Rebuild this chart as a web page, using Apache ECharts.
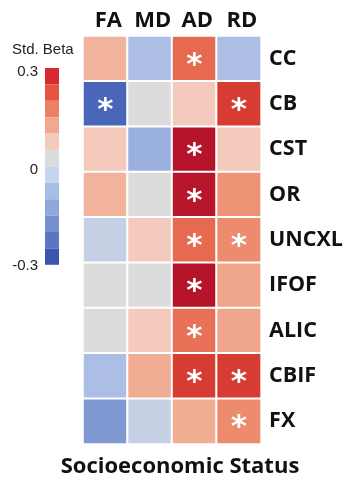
<!DOCTYPE html>
<html>
<head>
<meta charset="utf-8">
<script src="https://cdn.jsdelivr.net/npm/echarts@6/dist/echarts.min.js"></script>
<style>html,body{margin:0;padding:0;background:#fff;}#c{width:346px;height:480px;}</style>
</head>
<body>
<div id="c"></div>
<script>
// Columns (DTI metrics) and rows (tracts)
var metrics = ['FA', 'MD', 'AD', 'RD'];
var tracts = ['CC', 'CB', 'CST', 'OR', 'UNCXL', 'IFOF', 'ALIC', 'CBIF', 'FX'];
// Std. Beta per metric, listed over tracts
var betaFA = [0.10, -0.25, 0.06, 0.10, -0.03, 0.00, 0.00, -0.07, -0.15];
var betaMD = [-0.07, 0.00, -0.10, 0.00, 0.06, 0.00, 0.06, 0.11, -0.03];
var betaAD = [0.20, 0.06, 0.38, 0.37, 0.20, 0.38, 0.19, 0.27, 0.11];
var betaRD = [-0.07, 0.27, 0.06, 0.15, 0.16, 0.12, 0.12, 0.27, 0.16];
// Significance (asterisk) per metric
var sigFA = [0, 1, 0, 0, 0, 0, 0, 0, 0];
var sigMD = [0, 0, 0, 0, 0, 0, 0, 0, 0];
var sigAD = [1, 0, 1, 1, 1, 1, 1, 1, 0];
var sigRD = [0, 1, 0, 0, 1, 0, 0, 1, 1];
// Colour bar bins (Std. Beta), top to bottom
var binEdges = [0.3, 0.25, 0.2, 0.15, 0.1, 0.05, 0, -0.05, -0.1, -0.15, -0.2, -0.25, -0.3];
var binColors = ['#d9292e', '#e45440', '#ec8062', '#f2a88e', '#f3cbbd', '#dcdcdc',
                 '#c6d4ee', '#a8bde6', '#8fa8dc', '#7590cf', '#5a76c3', '#3c56b0'];
// Cell colour scale stops (-0.3 .. 0.4)
var cellScale = ['#3a54ae', '#4a66b9', '#6681c8', '#8099d2', '#9ab0df', '#b8c8ea', '#dcdcdc',
                 '#f3d0c3', '#f2b39c', '#ee9374', '#e66a50', '#dc4437', '#d0302e', '#bd1a2c', '#b0102a'];

var cols = [betaFA, betaMD, betaAD, betaRD];
var sigs = [sigFA, sigMD, sigAD, sigRD];
var data = [];
for (var c = 0; c < metrics.length; c++) {
  for (var r = 0; r < tracts.length; r++) {
    data.push({ value: [c, r, cols[c][r]], sig: sigs[c][r] });
  }
}
var pieces = [];
for (var i = 0; i < binColors.length; i++) {
  pieces.push({ min: binEdges[i + 1], max: binEdges[i], color: binColors[i] });
}

var chart = echarts.init(document.getElementById('c'));
var boldFont = 'Open Sans';
chart.setOption({
  animation: false,
  backgroundColor: '#fff',
  grid: { left: 83, top: 36, width: 180, height: 408 },
  xAxis: {
    type: 'category', data: metrics, position: 'top',
    axisLine: { show: false }, axisTick: { show: false }, splitLine: { show: false },
    axisLabel: { interval: 0, color: '#111', fontFamily: boldFont, fontWeight: 'bold', fontSize: 22, margin: 4, padding: [0, 0, 0, 6] }
  },
  yAxis: {
    type: 'category', data: tracts, inverse: true, position: 'right',
    axisLine: { show: false }, axisTick: { show: false }, splitLine: { show: false },
    axisLabel: { interval: 0, color: '#111', fontFamily: boldFont, fontWeight: 'bold', fontSize: 21.5, margin: 8, align: 'left' }
  },
  visualMap: [
    {
      type: 'continuous', show: false, seriesIndex: 0, dimension: 2,
      min: -0.3, max: 0.4, inRange: { color: cellScale }
    },
    {
      type: 'piecewise', show: true, seriesIndex: [], pieces: pieces,
      orient: 'vertical', left: 45, top: 68, padding: 0,
      itemWidth: 14, itemHeight: 16.4, itemGap: 0, itemSymbol: 'rect',
      showLabel: false, selectedMode: false, hoverLink: false, inverse: false
    }
  ],
  series: [{
    type: 'heatmap',
    data: data,
    itemStyle: { borderColor: '#fff', borderWidth: 2 },
    label: {
      show: true, color: '#fff', fontFamily: 'DejaVu Sans', fontWeight: 'bold', fontSize: 31,
      offset: [0, 7],
      formatter: function (p) { return p.data.sig ? '*' : ''; }
    },
    emphasis: { disabled: true }
  }],
  graphic: [
    { type: 'text', left: 12, top: 42, style: { text: 'Std. Beta', font: '15px "Liberation Sans"', fill: '#222' } },
    { type: 'text', x: 38, y: 72, style: { text: '0.3', font: '15px "Liberation Sans"', fill: '#222', textAlign: 'right', textVerticalAlign: 'middle' } },
    { type: 'text', x: 38, y: 170, style: { text: '0', font: '15px "Liberation Sans"', fill: '#222', textAlign: 'right', textVerticalAlign: 'middle' } },
    { type: 'text', x: 38, y: 266, style: { text: '-0.3', font: '15px "Liberation Sans"', fill: '#222', textAlign: 'right', textVerticalAlign: 'middle' } },
    { type: 'text', x: 180, y: 467, style: { text: 'Socioeconomic Status', font: 'bold 22px "Open Sans"', fill: '#111', textAlign: 'center', textVerticalAlign: 'middle' } }
  ]
});
</script>
</body>
</html>
